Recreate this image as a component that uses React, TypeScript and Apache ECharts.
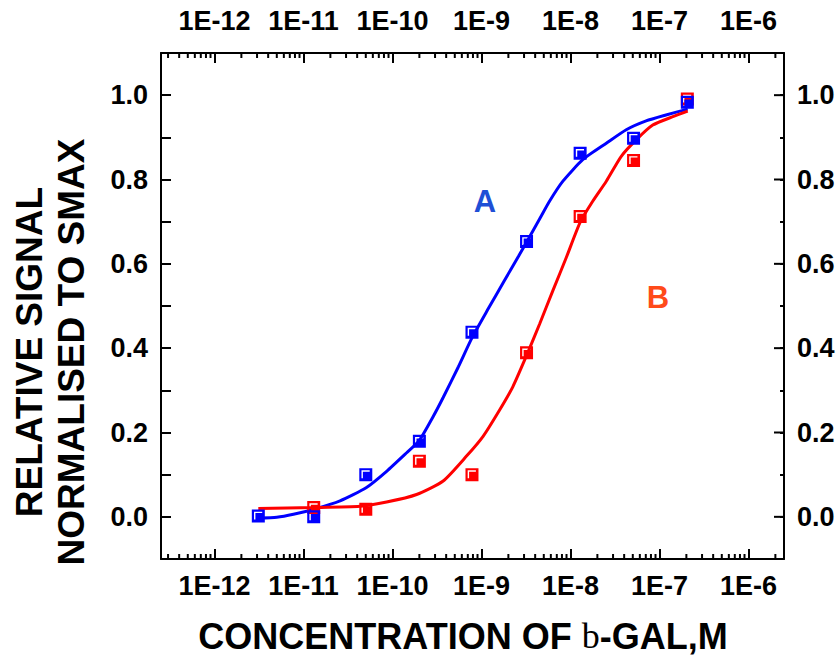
import React, { useEffect, useRef } from "react";
import * as echarts from "echarts";

// ---- data ----
const blueX = [3.1e-12, 1.3e-11, 5e-11, 2e-10, 7.8e-10, 3.2e-9, 1.28e-8, 5.1e-8, 2.05e-7];
const blueY = [0.002, 0.0, 0.1, 0.179, 0.438, 0.653, 0.862, 0.898, 0.983];
const redX = [1.3e-11, 5e-11, 2e-10, 7.8e-10, 3.2e-9, 1.28e-8, 5.1e-8, 2.05e-7];
const redY = [0.022, 0.018, 0.132, 0.1, 0.389, 0.712, 0.845, 0.991];

const blueCurveX = [
  3.1e-12, 5.0e-12, 7.7e-12, 1.31e-11, 2.57e-11, 5.04e-11, 8.57e-11, 1.44e-10, 1.98e-10,
  2.86e-10, 3.7e-10, 5.49e-10, 7.82e-10, 1.2e-9, 1.8e-9, 2.6e-9, 3.27e-9, 4.5e-9, 5.82e-9,
  8.2e-9, 1.37e-8, 2.52e-8, 4.22e-8, 7.06e-8, 1.18e-7, 2.07e-7,
];
const blueCurveY = [
  -0.003, -0.001, 0.006, 0.018, 0.038, 0.069, 0.108, 0.152, 0.18,
  0.238, 0.283, 0.356, 0.425, 0.495, 0.56, 0.618, 0.655, 0.707, 0.749,
  0.796, 0.847, 0.886, 0.918, 0.939, 0.953, 0.967,
];
const redCurveX = [
  3.1e-12, 1.31e-11, 4.31e-11, 8.57e-11, 1.86e-10, 3.7e-10, 6.77e-10, 1.04e-9, 1.6e-9,
  2.25e-9, 3.27e-9, 4.5e-9, 6.34e-9, 8.95e-9, 1.29e-8, 1.78e-8, 2.52e-8, 3.71e-8, 5.46e-8,
  8.38e-8, 1.41e-7, 2.07e-7,
];
const redCurveY = [
  0.02, 0.022, 0.025, 0.035, 0.053, 0.085, 0.144, 0.191, 0.254,
  0.309, 0.387, 0.458, 0.537, 0.615, 0.7, 0.749, 0.796, 0.855, 0.894,
  0.929, 0.949, 0.962,
];

// ---- axes ----
const X_MIN = 2.5e-13;
const X_MAX = 2.5e-6;
const Y_MIN = -0.1;
const Y_MAX = 1.1;
const xTickExponents = [-12, -11, -10, -9, -8, -7, -6];
const xTickLabels = ["1E-12", "1E-11", "1E-10", "1E-9", "1E-8", "1E-7", "1E-6"];
const yTickValues = [0, 0.2, 0.4, 0.6, 0.8, 1.0];
const yTickLabels = ["0.0", "0.2", "0.4", "0.6", "0.8", "1.0"];

const FONT = '"Liberation Sans", Arial, Helvetica, sans-serif';

// log minor ticks (2..9 x 10^n) inside the axis range
const minorXTicks: number[] = [];
for (let d = -13; d <= -6; d++) {
  for (let m = 2; m <= 9; m++) {
    const v = m * Math.pow(10, d);
    if (v > X_MIN && v < X_MAX) minorXTicks.push(v);
  }
}

const xLabelFormatter = (v: number) => {
  const l = Math.log10(v);
  const e = Math.round(l);
  if (Math.abs(l - e) > 1e-6) return "";
  const i = xTickExponents.indexOf(e);
  return i >= 0 ? xTickLabels[i] : "";
};
const yLabelFormatter = (v: number) => {
  for (let i = 0; i < yTickValues.length; i++) {
    if (Math.abs(v - yTickValues[i]) < 1e-6) return yTickLabels[i];
  }
  return "";
};

const markerPath = "path://M0 0H13V13H0Z M2.2 2.2V10H3.6V3.6H10.4V2.2Z";

const labelStyle = {
  fontSize: 27,
  fontWeight: "bold" as const,
  color: "#000",
  fontFamily: FONT,
};

function makeXAxis(position: "top" | "bottom") {
  return {
    type: "log",
    logBase: 10,
    min: X_MIN,
    max: X_MAX,
    position,
    axisLine: { show: true, onZero: false, lineStyle: { color: "#000", width: 2 } },
    axisTick: { show: true, inside: true, length: 10, lineStyle: { color: "#000", width: 2 } },
    axisLabel: {
      ...labelStyle,
      margin: position === "bottom" ? 13 : 19,
      showMinLabel: false,
      showMaxLabel: false,
      formatter: xLabelFormatter,
    },
    splitLine: { show: false },
    minorTick: { show: false },
  };
}

function makeYAxis(position: "left" | "right") {
  return {
    type: "value",
    min: Y_MIN,
    max: Y_MAX,
    interval: 0.1,
    position,
    axisLine: { show: true, onZero: false, lineStyle: { color: "#000", width: 2 } },
    axisTick: {
      show: true,
      inside: true,
      length: position === "left" ? 10 : 4,
      lineStyle: { color: "#000", width: 2 },
    },
    axisLabel: { ...labelStyle, margin: 13, formatter: yLabelFormatter },
    splitLine: { show: false },
  };
}

export default function App() {
  const ref = useRef<HTMLDivElement>(null);
  useEffect(() => {
    if (!ref.current) return;
    const chart = echarts.init(ref.current, undefined, { renderer: "svg" });
    const option: any = {
      animation: false,
      backgroundColor: "#fff",
      grid: { left: 161, right: 56, top: 53, bottom: 99, containLabel: false, outerBoundsMode: "none" },
      xAxis: [makeXAxis("bottom"), makeXAxis("top")],
      yAxis: [makeYAxis("left"), makeYAxis("right")],
      graphic: [
        {
          type: "text",
          x: 485,
          y: 201,
          style: { text: "A", fill: "#1f4fd6", fontSize: 31, fontWeight: "bold", fontFamily: FONT, align: "center", verticalAlign: "middle" },
        },
        {
          type: "text",
          x: 658,
          y: 297,
          style: { text: "B", fill: "#ff4a1a", fontSize: 31, fontWeight: "bold", fontFamily: FONT, align: "center", verticalAlign: "middle" },
        },
        {
          type: "text",
          x: 463,
          y: 636,
          style: {
            text: "{a|CONCENTRATION OF }{b|b}{a|-GAL,M}",
            align: "center",
            verticalAlign: "middle",
            rich: {
              a: { fontSize: 36, fontWeight: "bold", fontFamily: FONT, fill: "#000", color: "#000" },
              b: { fontSize: 36, fontWeight: "normal", fontFamily: '"Liberation Serif", "Times New Roman", serif', fill: "#000", color: "#000" },
            },
          },
        },
        {
          type: "text",
          x: 29,
          y: 352,
          rotation: Math.PI / 2,
          style: { text: "RELATIVE SIGNAL", fill: "#000", fontSize: 37, fontWeight: "bold", fontFamily: FONT, align: "center", verticalAlign: "middle" },
        },
        {
          type: "text",
          x: 71,
          y: 352,
          rotation: Math.PI / 2,
          style: { text: "NORMALISED TO SMAX", fill: "#000", fontSize: 37, fontWeight: "bold", fontFamily: FONT, align: "center", verticalAlign: "middle" },
        },
      ],
      series: [
        {
          type: "custom",
          name: "minorXTicks",
          silent: true,
          clip: false,
          xAxisIndex: 0,
          yAxisIndex: 0,
          data: minorXTicks.map((v) => [v, Y_MIN]),
          encode: { x: 0, y: 1 },
          renderItem: (params: any, api: any) => {
            const v = api.value(0);
            const b = api.coord([v, Y_MIN]);
            const t = api.coord([v, Y_MAX]);
            const st = { stroke: "#000", lineWidth: 2 };
            return {
              type: "group",
              children: [
                { type: "line", shape: { x1: b[0], y1: b[1], x2: b[0], y2: b[1] - 5 }, style: st },
                { type: "line", shape: { x1: t[0], y1: t[1], x2: t[0], y2: t[1] + 5 }, style: st },
              ],
            };
          },
        },
        {
          type: "custom",
          name: "rightMajorTicks",
          silent: true,
          clip: false,
          xAxisIndex: 0,
          yAxisIndex: 0,
          data: yTickValues.map((v) => [X_MAX, v]),
          encode: { x: 0, y: 1 },
          renderItem: (params: any, api: any) => {
            const p = api.coord([api.value(0), api.value(1)]);
            return {
              type: "line",
              shape: { x1: p[0], y1: p[1], x2: p[0] - 10, y2: p[1] },
              style: { stroke: "#000", lineWidth: 2 },
            };
          },
        },
        {
          type: "line",
          name: "A fit",
          data: blueCurveX.map((x, i) => [x, blueCurveY[i]]),
          showSymbol: false,
          smooth: 0.2,
          lineStyle: { color: "#0000ff", width: 3 },
          z: 3,
        },
        {
          type: "line",
          name: "B fit",
          data: redCurveX.map((x, i) => [x, redCurveY[i]]),
          showSymbol: false,
          smooth: 0.2,
          lineStyle: { color: "#ff0000", width: 3 },
          z: 3,
        },
        {
          type: "scatter",
          name: "B",
          data: redX.map((x, i) => [x, redY[i]]),
          symbol: markerPath,
          symbolSize: 13,
          itemStyle: { color: "#ff0000", opacity: 1 },
          z: 4,
        },
        {
          type: "scatter",
          name: "A",
          data: blueX.map((x, i) => [x, blueY[i]]),
          symbol: markerPath,
          symbolSize: 13,
          itemStyle: { color: "#0000ff", opacity: 1 },
          z: 5,
        },
      ],
    };
    chart.setOption(option);
    return () => chart.dispose();
  }, []);
  return (
    <div
      ref={ref}
      style={{ position: "fixed", left: 0, top: 0, width: 840, height: 658, background: "#fff" }}
    />
  );
}
